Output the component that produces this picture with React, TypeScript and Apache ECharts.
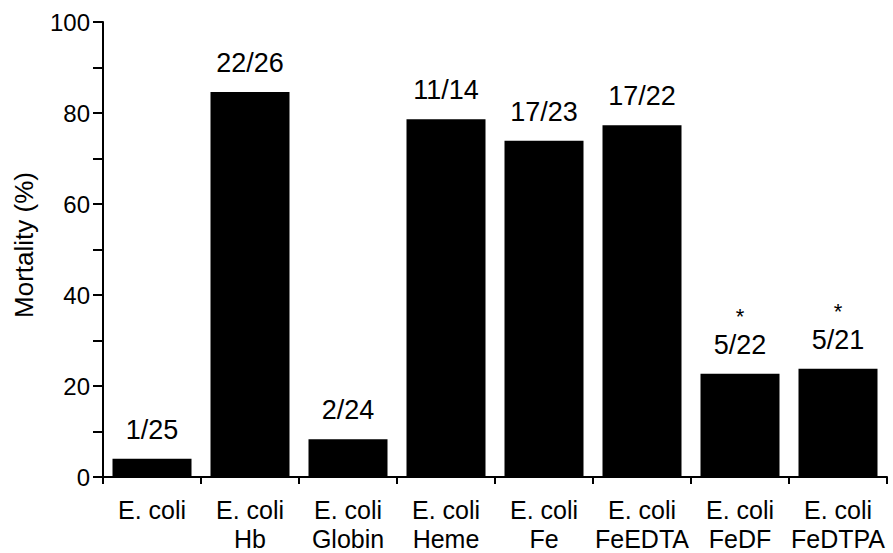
import React, { useEffect, useRef } from "react";
import * as echarts from "echarts";

const categories = [
  "E. coli",
  "E. coli\nHb",
  "E. coli\nGlobin",
  "E. coli\nHeme",
  "E. coli\nFe",
  "E. coli\nFeEDTA",
  "E. coli\nFeDF",
  "E. coli\nFeDTPA",
];
const mortality = [4, 84.6, 8.3, 78.6, 73.9, 77.3, 22.7, 23.8];
const counts = ["1/25", "22/26", "2/24", "11/14", "17/23", "17/22", "5/22", "5/21"];
const significant = [false, false, false, false, false, false, true, true];
const yTicks = [0, 20, 40, 60, 80, 100];

const FONT = "'Liberation Sans', Arial, Helvetica, sans-serif";

export default function App() {
  const ref = useRef<HTMLDivElement>(null);
  useEffect(() => {
    if (!ref.current) return;
    const chart = echarts.init(ref.current, undefined, { renderer: "svg" });
    chart.setOption({
      animation: false,
      backgroundColor: "#ffffff",
      grid: { left: 103, right: 6, top: 22, bottom: 71, containLabel: false },
      xAxis: {
        type: "category",
        data: categories,
        axisLine: { lineStyle: { color: "#000", width: 2 } },
        axisTick: { show: true, alignWithLabel: false, length: 7, lineStyle: { color: "#000", width: 2 } },
        axisLabel: {
          interval: 0,
          color: "#000",
          fontFamily: FONT,
          fontSize: 25,
          lineHeight: 29,
          margin: 18,
        },
        splitLine: { show: false },
      },
      yAxis: {
        type: "value",
        min: 0,
        max: 100,
        interval: 10,
        axisLine: { show: true, lineStyle: { color: "#000", width: 2 } },
        axisTick: { show: true, length: 10, lineStyle: { color: "#000", width: 2 } },
        axisLabel: {
          color: "#000",
          fontFamily: FONT,
          fontSize: 24,
          margin: 13,
          formatter: (v: number) => (yTicks.includes(v) ? String(v) : ""),
        },
        splitLine: { show: false },
      },
      graphic: [
        {
          type: "text",
          x: 24,
          y: 245,
          rotation: Math.PI / 2,
          style: {
            text: "Mortality (%)",
            fill: "#000",
            font: `26px ${FONT}`,
            textAlign: "center",
            textVerticalAlign: "middle",
          },
        },
      ],
      series: [
        {
          type: "bar",
          data: mortality,
          barWidth: 79,
          itemStyle: { color: "#000" },
          label: {
            show: true,
            position: "top",
            distance: 14,
            formatter: (p: any) =>
              significant[p.dataIndex]
                ? `{s|*}\n{c|${counts[p.dataIndex]}}`
                : `{c|${counts[p.dataIndex]}}`,
            rich: {
              c: { fontFamily: FONT, fontSize: 27, color: "#000", lineHeight: 30 },
              s: { fontFamily: FONT, fontSize: 22, color: "#000", lineHeight: 27 },
            },
          },
        },
      ],
    });
    return () => chart.dispose();
  }, []);
  return (
    <div
      ref={ref}
      style={{ position: "fixed", left: 0, top: 0, width: 893, height: 553 }}
    />
  );
}
